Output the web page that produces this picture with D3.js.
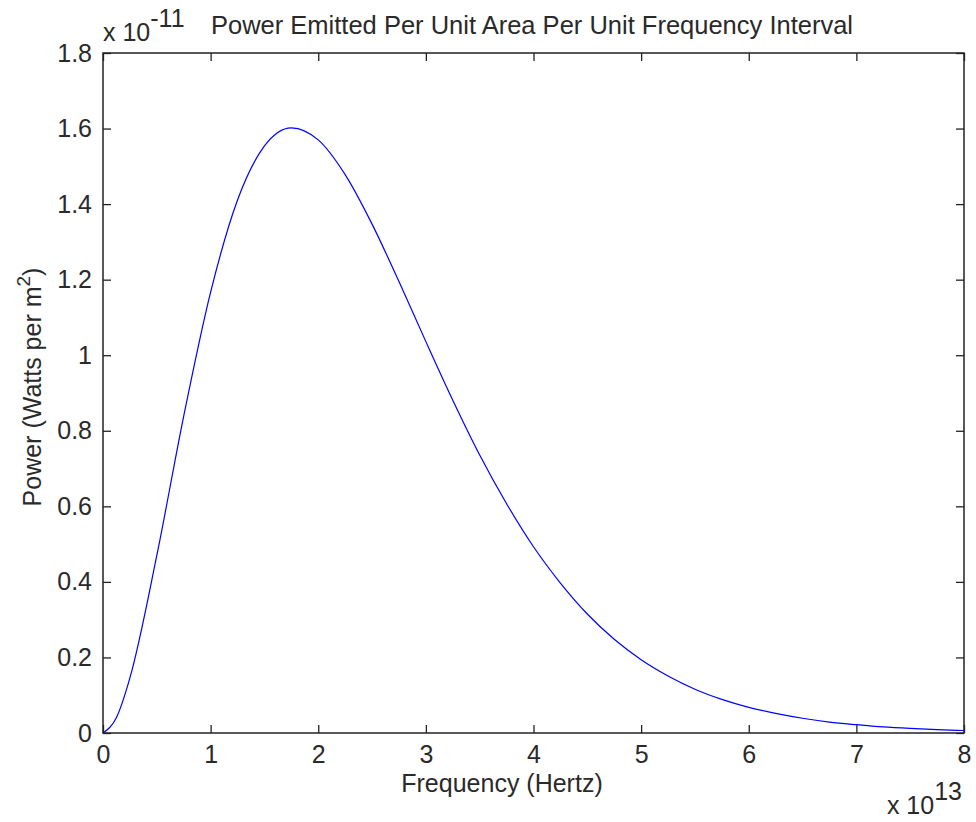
<!DOCTYPE html>
<html>
<head>
<meta charset="utf-8">
<script src="https://cdn.jsdelivr.net/npm/d3@7"></script>
<style>
  body { margin: 0; background: #fff; }
  svg text { font-family: "Liberation Sans", Arial, sans-serif; fill: #2a2a2a; }
</style>
</head>
<body>
<div id="chart"></div>
<script>
// frequency in units of 1e13 Hz
const freq = [0, 0.125, 0.25, 0.5, 0.75, 1, 1.25, 1.5, 1.75, 2, 2.25, 2.5, 2.75, 3, 3.25, 3.5,
  3.75, 4, 4.25, 4.5, 4.75, 5, 5.25, 5.5, 5.75, 6, 6.25, 6.5, 6.75, 7, 7.25, 7.5, 7.75, 8];
// power in units of 1e-11 W/m^2 per Hz
const power = [0, 0.041, 0.146, 0.470, 0.839, 1.167, 1.411, 1.554, 1.602, 1.570, 1.478, 1.347,
  1.195, 1.036, 0.881, 0.736, 0.607, 0.493, 0.397, 0.315, 0.248, 0.194, 0.151, 0.116, 0.089,
  0.068, 0.052, 0.039, 0.029, 0.022, 0.016, 0.012, 0.009, 0.0066];
const xTicks = [0, 1, 2, 3, 4, 5, 6, 7, 8];
const yTicks = [0, 0.2, 0.4, 0.6, 0.8, 1, 1.2, 1.4, 1.6, 1.8];

const width = 976, height = 822;
const margin = { top: 53, right: 12, bottom: 89, left: 103 };
const fs = 25;

const svg = d3.select('#chart').append('svg')
  .attr('width', width)
  .attr('height', height);

const x = d3.scaleLinear().domain([0, 8]).range([margin.left, width - margin.right]);
const y = d3.scaleLinear().domain([0, 1.8]).range([height - margin.bottom, margin.top]);

const tickFmt = d => d3.format('~g')(+d.toFixed(1));

// curve
const data = freq.map((f, i) => ({ f, p: power[i] }));
svg.append('path')
  .datum(data)
  .attr('fill', 'none')
  .attr('stroke', '#0000ff')
  .attr('stroke-width', 1.2)
  .attr('d', d3.line()
    .x(d => x(d.f))
    .y(d => y(d.p))
    .curve(d3.curveMonotoneX));

function styleAxis(g, showLabels) {
  g.select('.domain').remove();
  g.selectAll('line').attr('stroke', '#222').attr('stroke-width', 1.3);
  g.selectAll('text').style('font-size', fs + 'px').attr('fill', '#2a2a2a');
  if (!showLabels) g.selectAll('text').remove();
}

svg.append('g')
  .attr('transform', `translate(0,${y(0)})`)
  .call(d3.axisBottom(x).tickValues(xTicks).tickSize(-8).tickPadding(12).tickFormat(tickFmt))
  .call(g => styleAxis(g, true));
svg.append('g')
  .attr('transform', `translate(0,${y(1.8)})`)
  .call(d3.axisTop(x).tickValues(xTicks).tickSize(-8))
  .call(g => styleAxis(g, false));
svg.append('g')
  .attr('transform', `translate(${x(0)},0)`)
  .call(d3.axisLeft(y).tickValues(yTicks).tickSize(-8).tickPadding(11).tickFormat(tickFmt))
  .call(g => styleAxis(g, true));
svg.append('g')
  .attr('transform', `translate(${x(8)},0)`)
  .call(d3.axisRight(y).tickValues(yTicks).tickSize(-8))
  .call(g => styleAxis(g, false));

// frame
svg.append('rect')
  .attr('x', x(0)).attr('y', y(1.8))
  .attr('width', x(8) - x(0)).attr('height', y(0) - y(1.8))
  .attr('fill', 'none').attr('stroke', '#222').attr('stroke-width', 1.5);

// title
svg.append('text')
  .attr('x', 532).attr('y', 34)
  .attr('text-anchor', 'middle')
  .style('font-size', '25.5px')
  .text('Power Emitted Per Unit Area Per Unit Frequency Interval');

// x label
svg.append('text')
  .attr('x', 502).attr('y', 792)
  .attr('text-anchor', 'middle')
  .style('font-size', fs + 'px')
  .text('Frequency (Hertz)');

// y label
const yl = svg.append('text')
  .attr('transform', `translate(41,387) rotate(-90)`)
  .attr('text-anchor', 'middle')
  .style('font-size', fs + 'px');
yl.append('tspan').text('Power (Watts per m');
yl.append('tspan').attr('dy', -11).style('font-size', '19px').text('2');
yl.append('tspan').attr('dy', 11).text(')');

// exponent labels
const ey = svg.append('text').attr('x', x(0)).attr('y', 41).style('font-size', fs + 'px');
ey.append('tspan').text('x 10');
ey.append('tspan').attr('dy', -14).text('-11');

const ex = svg.append('text').attr('x', width - 14).attr('y', 814)
  .attr('text-anchor', 'end').style('font-size', fs + 'px');
ex.append('tspan').text('x 10');
ex.append('tspan').attr('dy', -14).text('13');
</script>
</body>
</html>
